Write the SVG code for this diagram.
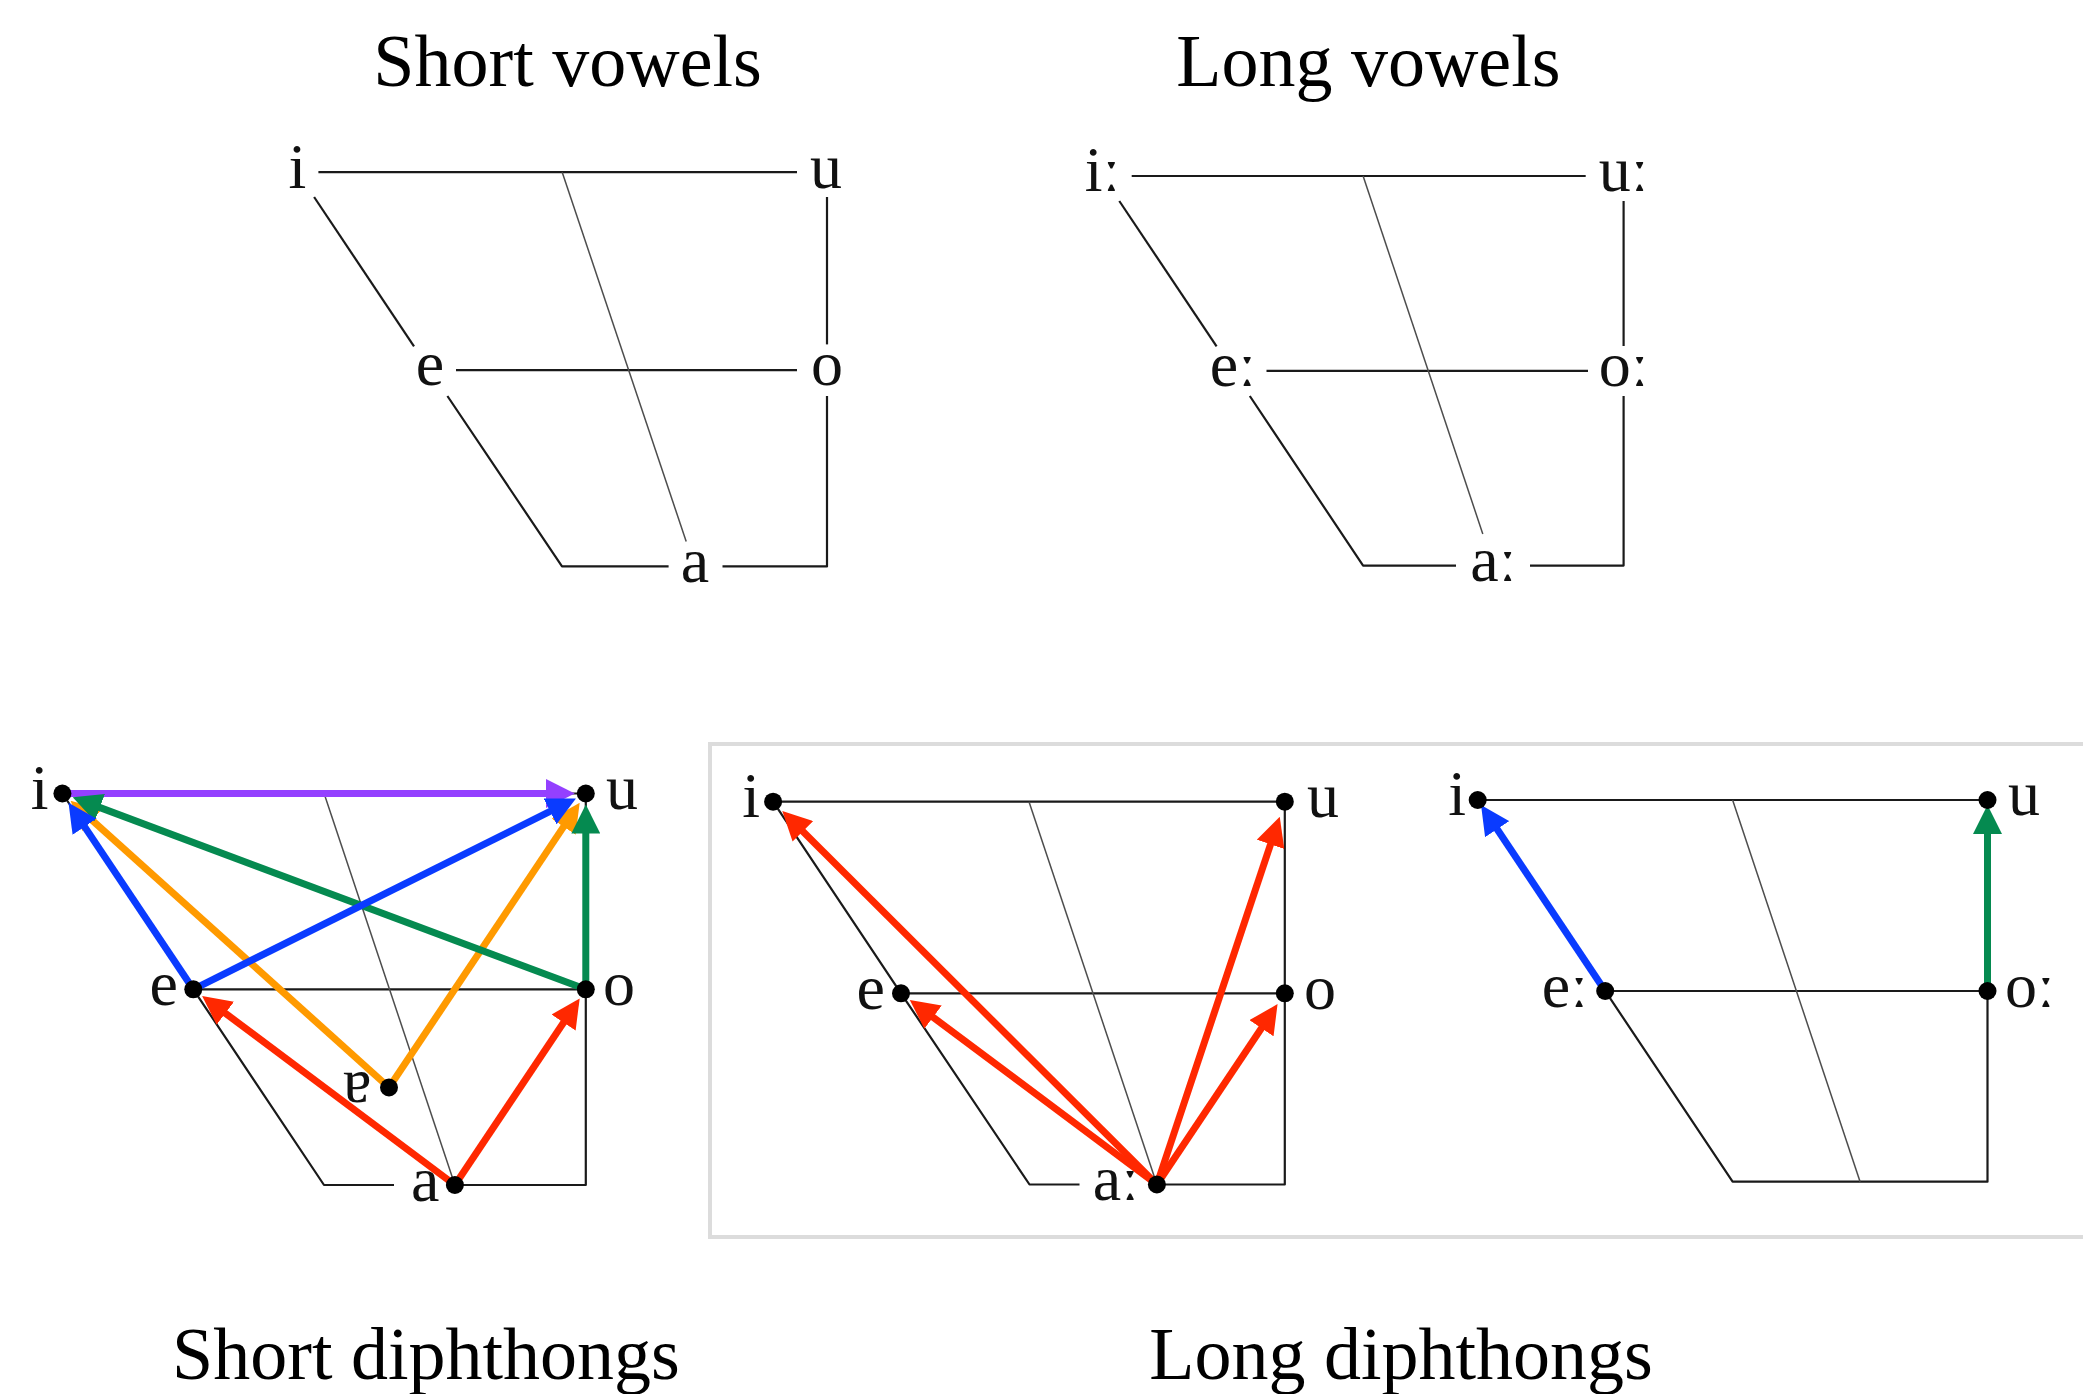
<svg xmlns="http://www.w3.org/2000/svg" width="2083" height="1394" viewBox="0 0 2083 1394">
<style>
.ln{fill:none;stroke:#1a1a1a;stroke-width:2.2;stroke-linejoin:round}
.ctr{fill:none;stroke:#4d4d4d;stroke-width:1.5}
.lbl{font-family:"Liberation Serif","DejaVu Serif",serif;font-size:64px;fill:#111}
.ttl{font-family:"Liberation Serif","DejaVu Serif",serif;font-size:74px;fill:#000;text-anchor:middle}
.dot{fill:#000}
.ar{fill:none;stroke-width:7;stroke-linecap:butt}
.pu{stroke:#9440ff;marker-end:url(#hPu)}
.bl{stroke:#0a3bff;marker-end:url(#hBl)}
.gr{stroke:#058a50;marker-end:url(#hGr)}
.or{stroke:#ff9a00;marker-end:url(#hOr)}
.rd{stroke:#ff2800;marker-end:url(#hRd)}
</style>
<defs>
<marker id="hPu" viewBox="0 0 29 29" markerWidth="29" markerHeight="29" refX="14" refY="14.5" orient="auto" markerUnits="userSpaceOnUse"><path d="M0,0 L29,14.5 L0,29 z" fill="#9440ff"/></marker>
<marker id="hBl" viewBox="0 0 29 29" markerWidth="29" markerHeight="29" refX="14" refY="14.5" orient="auto" markerUnits="userSpaceOnUse"><path d="M0,0 L29,14.5 L0,29 z" fill="#0a3bff"/></marker>
<marker id="hGr" viewBox="0 0 29 29" markerWidth="29" markerHeight="29" refX="14" refY="14.5" orient="auto" markerUnits="userSpaceOnUse"><path d="M0,0 L29,14.5 L0,29 z" fill="#058a50"/></marker>
<marker id="hOr" viewBox="0 0 29 29" markerWidth="29" markerHeight="29" refX="14" refY="14.5" orient="auto" markerUnits="userSpaceOnUse"><path d="M0,0 L29,14.5 L0,29 z" fill="#ff9a00"/></marker>
<marker id="hRd" viewBox="0 0 29 29" markerWidth="29" markerHeight="29" refX="14" refY="14.5" orient="auto" markerUnits="userSpaceOnUse"><path d="M0,0 L29,14.5 L0,29 z" fill="#ff2800"/></marker>
</defs>
<rect width="2083" height="1394" fill="#fff"/>

<!-- titles -->
<g id="titles">
<text class="ttl" x="567.6" y="86">Short vowels</text>
<text class="ttl" x="1368.4" y="86">Long vowels</text>
<text class="ttl" x="426" y="1379">Short diphthongs</text>
<text class="ttl" x="1401" y="1379">Long diphthongs</text>
</g>

<!-- long diphthongs frame box -->
<rect id="long-diph-box" x="710" y="744" width="1400" height="493" fill="none" stroke="#dcdcdc" stroke-width="4"/>

<!-- ===== Short vowels chart ===== -->
<g id="sv-frame">
<g class="ln">
<line x1="318.4" y1="172.2" x2="797" y2="172.2"/>
<line x1="827" y1="197" x2="827" y2="344.4"/>
<polyline points="827,396 827,566.4 722.5,566.4"/>
<line x1="456" y1="370.2" x2="797" y2="370.2"/>
<line x1="314.1" y1="197" x2="414" y2="346.4"/>
<polyline points="447.4,396 562,566.4 668.6,566.4"/>
</g>
<line class="ctr" x1="562.2" y1="172.2" x2="686.2" y2="541.5"/>
</g>
<g id="sv-i"><text class="lbl" x="297.5" y="187.5" text-anchor="middle">i</text></g>
<g id="sv-u"><text class="lbl" x="826" y="187.5" text-anchor="middle">u</text></g>
<g id="sv-e"><text class="lbl" x="430" y="385.2" text-anchor="middle">e</text></g>
<g id="sv-o"><text class="lbl" x="827" y="385.2" text-anchor="middle">o</text></g>
<g id="sv-a"><text class="lbl" x="695" y="582" text-anchor="middle">a</text></g>

<!-- ===== Long vowels chart ===== -->
<g id="lv-frame">
<g class="ln">
<line x1="1131.7" y1="176" x2="1585.7" y2="176"/>
<line x1="1623.6" y1="201" x2="1623.6" y2="346"/>
<polyline points="1623.6,396 1623.6,565.6 1530,565.6"/>
<line x1="1266.5" y1="370.8" x2="1588" y2="370.8"/>
<line x1="1119.3" y1="201" x2="1216.6" y2="346.4"/>
<polyline points="1249.8,396 1363.1,565.6 1456,565.6"/>
</g>
<line class="ctr" x1="1363.1" y1="176" x2="1482.8" y2="533.9"/>
</g>
<g id="lv-i"><text class="lbl" x="1102.6" y="191" text-anchor="middle">iː</text></g>
<g id="lv-u"><text class="lbl" x="1623.6" y="191" text-anchor="middle">uː</text></g>
<g id="lv-e"><text class="lbl" x="1232.9" y="385.8" text-anchor="middle">eː</text></g>
<g id="lv-o"><text class="lbl" x="1623.6" y="385.8" text-anchor="middle">oː</text></g>
<g id="lv-a"><text class="lbl" x="1493.4" y="581" text-anchor="middle">aː</text></g>

<!-- ===== Short diphthongs chart frame ===== -->
<g id="sd-frame">
<polyline class="ln" points="394,1185 324,1185 193.3,989.3 62.4,793.5 585.8,793.5 585.8,1185 454.9,1185"/>
<line class="ln" x1="193.3" y1="989.3" x2="585.8" y2="989.3"/>
<line class="ctr" x1="324.1" y1="793.5" x2="454.9" y2="1185"/>
</g>

<!-- ===== Long diphthongs chart 1 frame ===== -->
<g id="ld1-frame">
<polyline class="ln" points="1079.5,1184.5 1029.5,1184.5 901,993.3 773.1,801.7 1284.8,801.7 1284.8,1184.5 1156.9,1184.5"/>
<line class="ln" x1="901" y1="993.3" x2="1284.8" y2="993.3"/>
<line class="ctr" x1="1029" y1="801.7" x2="1156.9" y2="1184.5"/>
</g>

<!-- ===== Long diphthongs chart 2 frame ===== -->
<g id="ld2-frame">
<polygon class="ln" points="1477.7,800 1987.5,800 1987.5,1181.7 1732.6,1181.7"/>
<line class="ln" x1="1605.2" y1="991" x2="1987.5" y2="991"/>
<line class="ctr" x1="1732.6" y1="800" x2="1860.1" y2="1181.7"/>
</g>

<!-- ===== connectors ===== -->
<g id="connectors" class="ar">
<!-- short diphthongs -->
<line class="pu" x1="62.4" y1="793.5" x2="559.8" y2="793.5"/>
<line class="rd" x1="454.9" y1="1185" x2="214.12" y2="1004.87"/>
<line class="rd" x1="454.9" y1="1185" x2="571.34" y2="1010.92"/>
<line class="or" x1="389" y1="1087.5" x2="81.73" y2="810.9"/>
<line class="or" x1="389" y1="1087.5" x2="571.34" y2="815.11"/>
<line class="gr" x1="585.8" y1="989.3" x2="86.75" y2="802.61"/>
<line class="bl" x1="193.3" y1="989.3" x2="76.85" y2="815.12"/>
<line class="bl" x1="193.3" y1="989.3" x2="562.53" y2="805.11"/>
<line class="gr" x1="585.8" y1="989.3" x2="585.8" y2="819.5"/>
<!-- long diphthongs 1 -->
<line class="rd" x1="1156.9" y1="1184.5" x2="792.92" y2="821.47"/>
<line class="rd" x1="1156.9" y1="1184.5" x2="921.83" y2="1008.86"/>
<line class="rd" x1="1156.9" y1="1184.5" x2="1274.98" y2="831.1"/>
<line class="rd" x1="1156.9" y1="1184.5" x2="1269.23" y2="1016.58"/>
<!-- long diphthongs 2 -->
<line class="bl" x1="1605.2" y1="991" x2="1489.36" y2="817.47"/>
<line class="gr" x1="1987.5" y1="991" x2="1987.5" y2="820"/>
</g>

<!-- ===== Short diphthongs nodes ===== -->
<g id="sd-i"><circle class="dot" cx="62.4" cy="793.5" r="9"/><text class="lbl" x="48.5" y="808.5" text-anchor="end">i</text></g>
<g id="sd-u"><circle class="dot" cx="585.8" cy="793.5" r="9"/><text class="lbl" x="606" y="808.5">u</text></g>
<g id="sd-e"><circle class="dot" cx="193.3" cy="989.3" r="9"/><text class="lbl" x="178" y="1004.5" text-anchor="end">e</text></g>
<g id="sd-o"><circle class="dot" cx="585.8" cy="989.3" r="9"/><text class="lbl" x="603" y="1004.5">o</text></g>
<g id="sd-turned-a"><circle class="dot" cx="389" cy="1087.5" r="9"/><text class="lbl" x="371.5" y="1102" text-anchor="end">ɐ</text></g>
<g id="sd-a"><circle class="dot" cx="454.9" cy="1185" r="9"/><text class="lbl" x="439.5" y="1201" text-anchor="end">a</text></g>

<!-- ===== Long diphthongs 1 nodes ===== -->
<g id="ld1-i"><circle class="dot" cx="773.1" cy="801.7" r="9"/><text class="lbl" x="760" y="817" text-anchor="end">i</text></g>
<g id="ld1-u"><circle class="dot" cx="1284.8" cy="801.7" r="9"/><text class="lbl" x="1307" y="817">u</text></g>
<g id="ld1-e"><circle class="dot" cx="901" cy="993.3" r="9"/><text class="lbl" x="885" y="1009" text-anchor="end">e</text></g>
<g id="ld1-o"><circle class="dot" cx="1284.8" cy="993.3" r="9"/><text class="lbl" x="1304" y="1009">o</text></g>
<g id="ld1-a"><circle class="dot" cx="1156.9" cy="1184.5" r="9"/><text class="lbl" x="1139" y="1200" text-anchor="end">aː</text></g>

<!-- ===== Long diphthongs 2 nodes ===== -->
<g id="ld2-i"><circle class="dot" cx="1477.7" cy="800" r="9"/><text class="lbl" x="1466" y="815" text-anchor="end">i</text></g>
<g id="ld2-u"><circle class="dot" cx="1987.5" cy="800" r="9"/><text class="lbl" x="2008" y="815">u</text></g>
<g id="ld2-e"><circle class="dot" cx="1605.2" cy="991" r="9"/><text class="lbl" x="1588" y="1006.5" text-anchor="end">eː</text></g>
<g id="ld2-o"><circle class="dot" cx="1987.5" cy="991" r="9"/><text class="lbl" x="2005" y="1006.5">oː</text></g>
</svg>
